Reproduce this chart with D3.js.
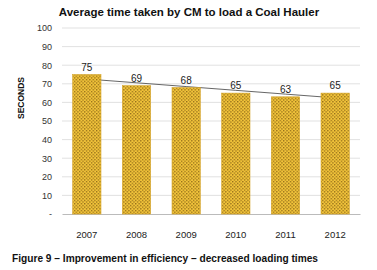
<!DOCTYPE html>
<html>
<head>
<meta charset="utf-8">
<script src="https://cdn.jsdelivr.net/npm/d3@7"></script>
<style>
  body { margin: 0; background: #fff; }
  svg { display: block; font-family: "Liberation Sans", Arial, sans-serif; }
</style>
</head>
<body>
<div id="chart-area"></div>
<script>
// chart data
var years = ['2007', '2008', '2009', '2010', '2011', '2012'];
var seconds = [75, 69, 68, 65, 63, 65];
var yTicks = [0, 10, 20, 30, 40, 50, 60, 70, 80, 90, 100];

var margins = { top: 28, bottom: 56, left: 62, right: 17 };
var width = 377 - margins.left - margins.right;
var height = 270 - margins.top - margins.bottom;

var svg = d3.select('#chart-area')
    .append('svg')
    .attr('width', 377)
    .attr('height', 270);

// checkered gold fill
var pat = svg.append('defs').append('pattern')
    .attr('id', 'gold')
    .attr('patternUnits', 'userSpaceOnUse')
    .attr('width', 3.4)
    .attr('height', 3.4);
pat.append('rect').attr('width', 3.4).attr('height', 3.4).attr('fill', '#f2c43a');
pat.append('rect').attr('x', 0).attr('y', 0).attr('width', 1.3).attr('height', 1.3).attr('fill', '#8f6a18');
pat.append('rect').attr('x', 1.7).attr('y', 1.7).attr('width', 1.3).attr('height', 1.3).attr('fill', '#8f6a18');

var g = svg.append('g')
    .attr('transform', `translate(${margins.left}, ${margins.top})`);

var x = d3.scaleBand()
    .domain(years)
    .range([0, width])
    .paddingInner(0.43)
    .paddingOuter(0.215);

var y = d3.scaleLinear()
    .domain([0, 100])
    .range([height, 0]);

// gridlines
g.selectAll('.grid')
    .data(yTicks.filter(d => d > 0))
    .enter()
    .append('line')
    .attr('x1', 0)
    .attr('x2', width)
    .attr('y1', d => y(d))
    .attr('y2', d => y(d))
    .attr('stroke', '#d9d9d9')
    .attr('stroke-width', 0.8);

// y axis labels
var yAxisCall = d3.axisLeft(y).tickValues(yTicks).tickSize(0).tickPadding(10)
    .tickFormat(d => d === 0 ? '-' : d);
var yAxis = g.append('g').call(yAxisCall);
yAxis.select('.domain').remove();
yAxis.selectAll('text').attr('font-size', '9px').attr('fill', '#333')
    .attr('font-family', '"Liberation Sans", Arial, sans-serif');

// x axis
var xAxisCall = d3.axisBottom(x).tickSize(0).tickPadding(17);
var xAxis = g.append('g')
    .attr('transform', `translate(0, ${height})`)
    .call(xAxisCall);
xAxis.select('.domain').attr('stroke', '#bbb').attr('stroke-width', 1);
xAxis.selectAll('text').attr('font-size', '9.5px').attr('fill', '#222')
    .attr('font-family', '"Liberation Sans", Arial, sans-serif');

// linear trend line (behind bars)
var n = seconds.length;
var mx = d3.mean(d3.range(n));
var my = d3.mean(seconds);
var slope = d3.sum(seconds, (v, i) => (i - mx) * (v - my)) / d3.sum(d3.range(n), i => (i - mx) * (i - mx));
var trend = seconds.map((v, i) => my + slope * (i - mx));
g.append('path')
    .datum(trend)
    .attr('fill', 'none')
    .attr('stroke', '#555')
    .attr('stroke-width', 0.9)
    .attr('d', d3.line()
        .x((d, i) => x(years[i]) + x.bandwidth() / 2)
        .y(d => y(d)));

// bars
g.selectAll('.bar')
    .data(seconds)
    .enter()
    .append('rect')
    .attr('x', (d, i) => x(years[i]))
    .attr('y', d => y(d))
    .attr('width', x.bandwidth())
    .attr('height', d => height - y(d))
    .attr('fill', 'url(#gold)')
    .attr('stroke', '#d6a52a')
    .attr('stroke-width', 0.6);

// value labels
g.selectAll('.val')
    .data(seconds)
    .enter()
    .append('text')
    .attr('x', (d, i) => x(years[i]) + x.bandwidth() / 2)
    .attr('y', d => y(d) - 4)
    .attr('text-anchor', 'middle')
    .attr('font-size', '10px')
    .attr('fill', '#222')
    .text(d => d);

// titles
svg.append('text')
    .attr('x', 189)
    .attr('y', 16)
    .attr('text-anchor', 'middle')
    .attr('font-size', '11.5px')
    .attr('font-weight', 'bold')
    .attr('fill', '#111')
    .text('Average time taken by CM to load a Coal Hauler');

svg.append('text')
    .attr('transform', 'rotate(-90)')
    .attr('x', -98)
    .attr('y', 24)
    .attr('text-anchor', 'middle')
    .attr('font-size', '8.5px')
    .attr('font-weight', 'bold')
    .attr('fill', '#111')
    .text('SECONDS');

svg.append('text')
    .attr('x', 12)
    .attr('y', 262)
    .attr('font-size', '10px')
    .attr('font-weight', 'bold')
    .attr('fill', '#111')
    .attr('font-family', '"Liberation Sans Narrow", "Liberation Sans", Arial, sans-serif')
    .attr('textLength', 306)
    .attr('lengthAdjust', 'spacingAndGlyphs')
    .text('Figure 9 \u2013 Improvement in efficiency \u2013 decreased loading times');
</script>
</body>
</html>
